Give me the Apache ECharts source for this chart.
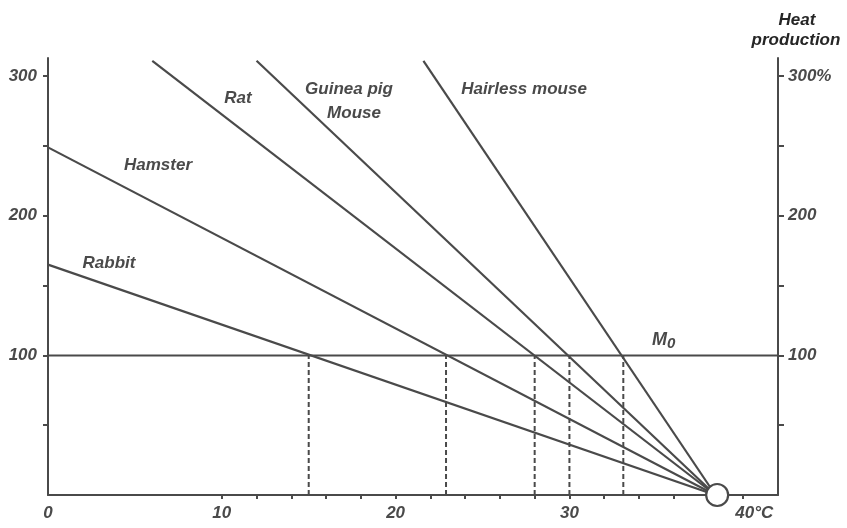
<!DOCTYPE html>
<html>
<head>
<meta charset="utf-8">
<style>
  html, body { margin: 0; padding: 0; background: #fff; }
  #chart { width: 847px; height: 528px; }
</style>
<script src="https://cdn.jsdelivr.net/npm/echarts@6/dist/echarts.min.js"></script>
</head>
<body>
<div id="chart"></div>
<script>
// Heat production vs. ambient temperature for several small mammals.
// Each line runs from its first visible point down to the common end point
// at zero heat production (body temperature, marked by the open circle).
const species     = ['Rabbit', 'Hamster', 'Rat', 'Guinea pig / Mouse', 'Hairless mouse'];
const startTemp   = [0, 0, 6.0, 12.0, 21.6];        // °C
const startHeat   = [165, 249, 311, 311, 311];      // % of basal
const endTemp     = 38.4;                           // °C, where heat production reaches 0
const endHeat     = 0;
// Lower critical temperatures (where each line meets the 100 % basal level)
const criticalTemp = [15.0, 22.9, 28.0, 30.0, 33.1];
const basalLevel  = 100;                            // M0
const bodyTemp    = [38.5, 0];                      // open circle
// Axis ticks / labels
const xTicks      = [10, 12, 14, 16, 18, 20, 22, 24, 26, 28, 30, 32, 34, 36, 38, 40];
const xLabels     = [0, 10, 20, 30, 40];
const yTicks      = [50, 100, 150, 200, 250, 300];
const yLabels     = [100, 200, 300];

const INK = '#4a4a4a';
const FONT = '"Liberation Sans", Arial, sans-serif';
const textBase = { fontFamily: FONT, fontStyle: 'italic', fontWeight: 'bold', fontSize: 17, color: INK };

const chart = echarts.init(document.getElementById('chart'), null, { renderer: 'canvas' });

const series = [];

// basal level line (M0)
series.push({
  type: 'line', data: [[0, basalLevel], [42, basalLevel]],
  symbol: 'none', lineStyle: { color: INK, width: 2 }, z: 2, silent: true
});

// dashed drops from each critical temperature down to the temperature axis
criticalTemp.forEach(function (t) {
  series.push({
    type: 'line', data: [[t, 0], [t, basalLevel]],
    symbol: 'none', lineStyle: { color: INK, width: 2, type: [5, 3] }, z: 2, silent: true
  });
});

// species lines
species.forEach(function (name, i) {
  series.push({
    name: name, type: 'line',
    data: [[startTemp[i], startHeat[i]], [endTemp, endHeat]],
    symbol: 'none', lineStyle: { color: INK, width: 2.2 }, z: 3, silent: true
  });
});

// open circle at body temperature
series.push({
  type: 'scatter', data: [bodyTemp], symbol: 'circle', symbolSize: 22, clip: false,
  itemStyle: { color: '#fff', borderColor: INK, borderWidth: 2.2, opacity: 1 }, z: 10, silent: true
});

const axisLine = { show: true, onZero: false, lineStyle: { color: INK, width: 2 } };

chart.setOption({
  animation: false,
  backgroundColor: '#fff',
  grid: { left: 48, right: 69, top: 58, bottom: 33, containLabel: false },
  xAxis: {
    type: 'value', min: 0, max: 42,
    axisLine: axisLine,
    splitLine: { show: false },
    axisTick: { show: true, length: 4, customValues: xTicks, lineStyle: { color: INK, width: 2 } },
    axisLabel: {
      customValues: xLabels, margin: 10, ...textBase,
      formatter: function (v) { return v === 40 ? '{u|40°C}' : String(v); },
      rich: { u: { ...textBase, padding: [0, 0, 0, 22] } }
    }
  },
  yAxis: [
    {
      type: 'value', min: 0, max: 313, position: 'left',
      axisLine: axisLine,
      splitLine: { show: false },
      axisTick: { show: true, length: 5, customValues: yTicks, lineStyle: { color: INK, width: 2 } },
      axisLabel: { customValues: yLabels, margin: 11, ...textBase }
    },
    {
      type: 'value', min: 0, max: 313, position: 'right',
      axisLine: axisLine,
      splitLine: { show: false },
      axisTick: { show: true, length: 6, customValues: yTicks, lineStyle: { color: INK, width: 2 } },
      axisLabel: {
        customValues: yLabels, margin: 10, ...textBase,
        formatter: function (v) { return v === 300 ? '300%' : String(v); }
      }
    }
  ],
  series: series,
  graphic: [
    { type: 'text', x: 238, y: 98, style: { text: 'Rat', font: 'italic bold 17px ' + FONT, fill: INK, align: 'center', verticalAlign: 'middle' } },
    { type: 'text', x: 158, y: 165, style: { text: 'Hamster', font: 'italic bold 17px ' + FONT, fill: INK, align: 'center', verticalAlign: 'middle' } },
    { type: 'text', x: 109, y: 263, style: { text: 'Rabbit', font: 'italic bold 17px ' + FONT, fill: INK, align: 'center', verticalAlign: 'middle' } },
    { type: 'text', x: 349, y: 89, style: { text: 'Guinea pig', font: 'italic bold 17px ' + FONT, fill: INK, align: 'center', verticalAlign: 'middle' } },
    { type: 'text', x: 354, y: 113, style: { text: 'Mouse', font: 'italic bold 17px ' + FONT, fill: INK, align: 'center', verticalAlign: 'middle' } },
    { type: 'text', x: 524, y: 89, style: { text: 'Hairless mouse', font: 'italic bold 17px ' + FONT, fill: INK, align: 'center', verticalAlign: 'middle' } },
    { type: 'text', x: 652, y: 340, style: {
        text: '{m|M}{s|0}', fill: INK, verticalAlign: 'middle',
        rich: {
          m: { font: 'italic bold 18px ' + FONT, fill: INK },
          s: { font: 'italic bold 15px ' + FONT, fill: INK, padding: [8, 0, 0, 0] }
        }
      } },
    { type: 'text', x: 797, y: 20, style: { text: 'Heat', font: 'italic bold 17px ' + FONT, fill: '#262626', align: 'center', verticalAlign: 'middle' } },
    { type: 'text', x: 796, y: 40, style: { text: 'production', font: 'italic bold 17px ' + FONT, fill: '#262626', align: 'center', verticalAlign: 'middle' } }
  ]
});
</script>
</body>
</html>
